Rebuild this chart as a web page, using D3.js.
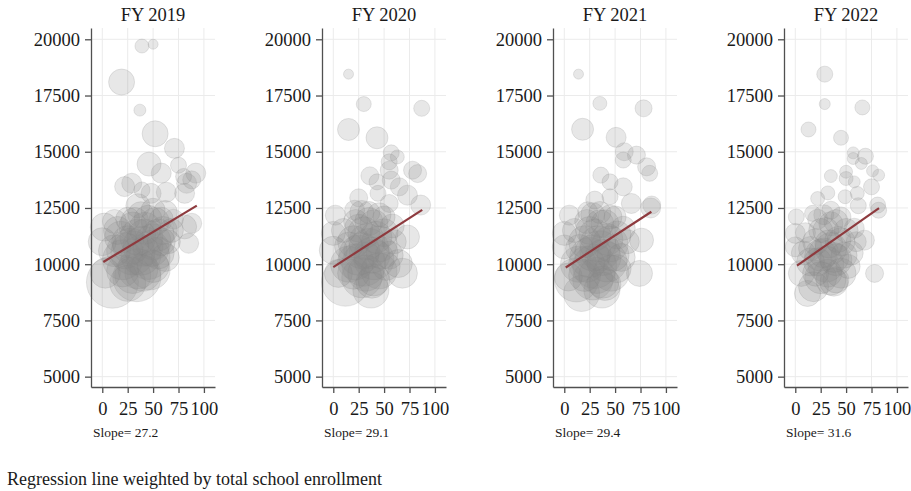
<!DOCTYPE html>
<html>
<head>
<meta charset="utf-8">
<script src="https://cdn.jsdelivr.net/npm/d3@7"></script>
<style>
  body { margin: 0; background: #fff; }
  svg { display: block; }
  text { font-family: "Liberation Serif", "Times New Roman", serif; fill: #1a1a1a; }
</style>
</head>
<body>
<svg id="chart" width="911" height="491"></svg>
<script>
// Fiscal years shown, one panel each
const years = ["FY 2019", "FY 2020", "FY 2021", "FY 2022"];

// Enrollment-weighted regression fits (per-pupil spending on share of students)
const slopes = [27.2, 29.1, 29.4, 31.6];
const intercepts = [10073, 9870, 9812, 9885];
const fitStart = [1, 0, 1.4, 1.7];
const fitEnd = [93, 87.5, 85.7, 82.4];

const xTicks = [0, 25, 50, 75, 100];
const yTicks = [5000, 7500, 10000, 12500, 15000, 17500, 20000];

// Schools: [share (%), per-pupil spending ($), total enrollment]
const schools2019 = [
  [39, 19700, 3600], [50, 19780, 1850], [19, 18100, 12500], [37, 16850, 2650],
  [52, 15800, 12500], [71, 15150, 7400], [46, 14450, 10650], [75, 14400, 4750],
  [58, 14050, 7400], [92, 14050, 7400], [80, 13900, 4750], [88, 13750, 6000],
  [29, 13600, 7400], [83, 13600, 7400], [39, 13300, 4750], [63, 13200, 7400],
  [22, 13450, 7400], [48, 13150, 7400], [81, 13150, 7400], [88, 11820, 7400],
  [81, 11660, 10650], [85, 10930, 7400], [2, 11650, 14500], [0, 11000, 14500],
  [3, 9600, 16650], [10, 9200, 50000], [34, 9400, 42600], [25, 9150, 23950],
  [47, 9750, 29600], [30, 10500, 35800], [40, 10800, 29600], [45, 10300, 35800],
  [35, 11200, 23950], [50, 11000, 23950], [25, 11000, 18950], [55, 10500, 18950],
  [42, 11600, 18950], [60, 11500, 14500], [20, 10200, 29600], [35, 9800, 29600],
  [15, 11500, 14500], [65, 11000, 10650], [58, 12000, 10650], [38, 12200, 12500],
  [25, 12000, 10650], [50, 12400, 10650], [70, 12000, 7400], [12, 10600, 18950],
  [30, 11700, 14500], [52, 11900, 14500], [62, 10300, 14500],
  [28, 10800, 23950], [38, 10400, 29600], [48, 10700, 23950], [42, 11200, 23950],
  [32, 11900, 14500], [22, 10600, 23950], [18, 11200, 18950], [55, 11300, 18950],
  [45, 12000, 14500], [40, 9600, 23950], [30, 9500, 23950], [58, 11000, 14500],
  [35, 12600, 10650], [62, 12300, 10650], [50, 9900, 18950], [20, 9700, 18950],
  [68, 11500, 10650], [12, 11900, 10650]
];

const schools2020 = [
  [15, 18450, 1850], [30, 17120, 4150], [87, 16930, 4750], [15, 15990, 8950],
  [43, 15620, 8950], [57, 14950, 4750], [63, 14770, 3600], [55, 14550, 4750],
  [55, 14180, 6000], [36, 13930, 6000], [78, 14180, 6000], [83, 14030, 6000],
  [43, 13660, 4750], [57, 13740, 6000], [65, 13440, 6000], [44, 13150, 4750],
  [25, 12950, 6000], [55, 12700, 6000], [86, 12630, 7400], [2, 12180, 7400],
  [21, 12400, 7400], [73, 13070, 7400], [0, 11370, 10650], [0, 10620, 14500],
  [5, 9590, 14500], [12, 9200, 42600], [37, 8850, 23950], [73, 11210, 10650],
  [68, 9600, 16650], [64, 10030, 14500], [25, 10400, 29600], [35, 10700, 29600],
  [30, 10000, 35800], [40, 10200, 29600], [45, 10900, 23950], [20, 11000, 18950],
  [30, 11400, 18950], [50, 11400, 14500], [40, 11800, 14500], [15, 10000, 23950],
  [28, 9400, 29600], [45, 9700, 23950], [55, 10400, 14500], [10, 11500, 10650],
  [22, 11900, 10650], [35, 12300, 8950], [50, 12100, 8950], [60, 11000, 10650],
  [38, 9200, 18950],
  [28, 10600, 23950], [38, 10400, 23950], [33, 11000, 23950], [22, 10100, 23950],
  [42, 11200, 18950], [48, 10500, 18950], [25, 11600, 14500], [35, 11900, 14500],
  [32, 9600, 23950], [20, 9600, 18950], [52, 9900, 14500], [45, 12200, 10650],
  [58, 11700, 10650], [15, 10800, 14500], [40, 9300, 18950], [28, 12300, 10650]
];

const schools2021 = [
  [14, 18450, 1850], [35, 17150, 3600], [78, 16930, 5350], [18, 16000, 8950],
  [51, 15640, 7400], [59, 15000, 6000], [71, 14850, 6000], [58, 14630, 4750],
  [81, 14330, 6000], [84, 14040, 4750], [36, 13960, 4750], [45, 13660, 4750],
  [58, 13440, 6000], [45, 13000, 4750], [30, 12850, 6000], [66, 12700, 7400],
  [86, 12630, 6000], [5, 12180, 7400], [23, 12330, 7400], [0, 11370, 10650],
  [0, 10770, 10650], [4, 9430, 14500], [17, 8700, 23950], [37, 8850, 23950],
  [76, 11070, 10650], [74, 9590, 12500], [85, 12500, 7400], [50, 12100, 8950],
  [25, 10300, 29600], [35, 10600, 29600], [30, 9900, 35800], [42, 10100, 29600],
  [45, 10900, 23950], [20, 11000, 18950], [30, 11300, 18950], [52, 11300, 14500],
  [40, 11800, 14500], [14, 10000, 23950], [28, 9300, 29600], [46, 9600, 23950],
  [56, 10300, 14500], [10, 11500, 10650], [22, 11900, 10650], [35, 12300, 8950],
  [62, 11000, 10650], [40, 9100, 18950], [12, 9300, 35800],
  [28, 10500, 23950], [38, 10300, 23950], [33, 10900, 23950], [22, 10000, 23950],
  [42, 11100, 18950], [48, 10400, 18950], [25, 11500, 14500], [35, 11800, 14500],
  [32, 9500, 23950], [20, 9500, 18950], [52, 9800, 14500], [45, 12100, 10650],
  [58, 11600, 10650], [15, 10700, 14500], [38, 9200, 18950], [28, 12200, 10650]
];

const schools2022 = [
  [29, 18450, 4750], [29, 17120, 2250], [66, 16970, 4150], [13, 15990, 4150],
  [45, 15620, 4150], [57, 14950, 2650], [69, 14800, 4750], [57, 14700, 2650],
  [65, 14480, 2650], [76, 14150, 2650], [82, 13960, 2650], [35, 13920, 3100],
  [50, 14110, 3100], [50, 13810, 3600], [58, 13660, 2650], [32, 13170, 3600],
  [49, 13000, 3600], [61, 13150, 3600], [22, 12920, 3600], [81, 12630, 4750],
  [1, 12100, 4750], [17, 12260, 4750], [62, 12600, 4750], [75, 13440, 4750],
  [0, 11370, 7400], [0, 10770, 7400], [6, 9590, 12500], [12, 8700, 12500],
  [35, 9290, 16650], [68, 11070, 7400], [78, 9590, 6000], [82, 12400, 4750],
  [25, 10400, 18950], [35, 10700, 18950], [30, 10000, 23950], [40, 10200, 18950],
  [45, 11000, 14500], [20, 11000, 12500], [30, 11500, 12500], [50, 11500, 10650],
  [40, 11900, 10650], [15, 10100, 14500], [25, 9400, 18950], [45, 9600, 16650],
  [55, 10500, 10650], [10, 11400, 7400], [22, 12000, 7400], [35, 12400, 6000],
  [60, 11000, 7400], [38, 9200, 14500], [18, 9000, 16650], [8, 10500, 10650],
  [28, 10500, 16650], [38, 10300, 16650], [33, 10900, 14500], [22, 10100, 14500],
  [42, 11100, 12500], [48, 10400, 12500], [25, 11500, 10650], [35, 11800, 10650],
  [32, 9600, 14500], [20, 9600, 12500], [52, 9900, 10650], [45, 12100, 7400],
  [58, 11600, 7400], [15, 10700, 10650], [40, 9300, 12500], [28, 12200, 7400]
];

const schoolsByYear = [schools2019, schools2020, schools2021, schools2022];

// Layout
const svg = d3.select("#chart");
const firstPanelX = 91, panelStep = 231;
const plotW = 124, plotTop = 28, plotBottom = 387;

const x = d3.scaleLinear().domain([-11.1, 110.9]).range([0, plotW]);
const y = d3.scaleLinear().domain([4540, 20502]).range([plotBottom, plotTop]);
const r = d3.scaleSqrt().domain([0, 50000]).range([0, 26]);

const axisColor = "#505050";
const gridColor = "#ebebeb";
const bubbleColor = "#888888";
const fitColor = "#8e3a3e";

years.forEach((label, i) => {
  const g = svg.append("g").attr("transform", `translate(${firstPanelX + i * panelStep},0)`);

  // grid
  g.append("g").selectAll("line").data(xTicks).join("line")
    .attr("x1", d => x(d)).attr("x2", d => x(d))
    .attr("y1", plotTop).attr("y2", plotBottom)
    .attr("stroke", gridColor).attr("stroke-width", 1);
  g.append("g").selectAll("line").data(yTicks).join("line")
    .attr("x1", 0).attr("x2", plotW)
    .attr("y1", d => y(d)).attr("y2", d => y(d))
    .attr("stroke", gridColor).attr("stroke-width", 1);

  // bubbles sized by enrollment
  const data = schoolsByYear[i].slice().sort((a, b) => b[2] - a[2]);
  g.append("g").selectAll("circle").data(data).join("circle")
    .attr("cx", d => x(d[0]))
    .attr("cy", d => y(d[1]))
    .attr("r", d => r(d[2]))
    .attr("fill", bubbleColor).attr("fill-opacity", 0.2)
    .attr("stroke", bubbleColor).attr("stroke-opacity", 0.2).attr("stroke-width", 1);

  // weighted fit line
  const fit = [fitStart[i], fitEnd[i]].map(v => [v, intercepts[i] + slopes[i] * v]);
  g.append("path")
    .attr("d", d3.line().x(d => x(d[0])).y(d => y(d[1]))(fit))
    .attr("fill", "none").attr("stroke", fitColor).attr("stroke-width", 2.2);

  // axes
  const yAxis = g.append("g")
    .call(d3.axisLeft(y).tickValues(yTicks).tickSize(6).tickSizeOuter(0).tickPadding(5).tickFormat(d3.format("d")));
  const xAxis = g.append("g").attr("transform", `translate(0,${plotBottom})`)
    .call(d3.axisBottom(x).tickValues(xTicks).tickSize(6).tickSizeOuter(0).tickPadding(9).tickFormat(d3.format("d")));
  [yAxis, xAxis].forEach(a => {
    a.select(".domain").attr("stroke", axisColor).attr("stroke-width", 1.3);
    a.selectAll(".tick line").attr("stroke", axisColor).attr("stroke-width", 1.3);
    a.selectAll(".tick text").attr("font-size", 18.5).attr("fill", "#1a1a1a")
      .attr("font-family", "Liberation Serif, Times New Roman, serif");
  });

  // panel title
  g.append("text").attr("x", plotW / 2).attr("y", 20.5)
    .attr("text-anchor", "middle").attr("font-size", 18.5).text(label);

  // slope note
  g.append("text").attr("x", 2).attr("y", 437)
    .attr("font-size", 13.5).text("Slope= " + slopes[i].toFixed(1));
});

svg.append("text").attr("x", 7).attr("y", 484.5)
  .attr("font-size", 18).text("Regression line weighted by total school enrollment");
</script>
</body>
</html>
